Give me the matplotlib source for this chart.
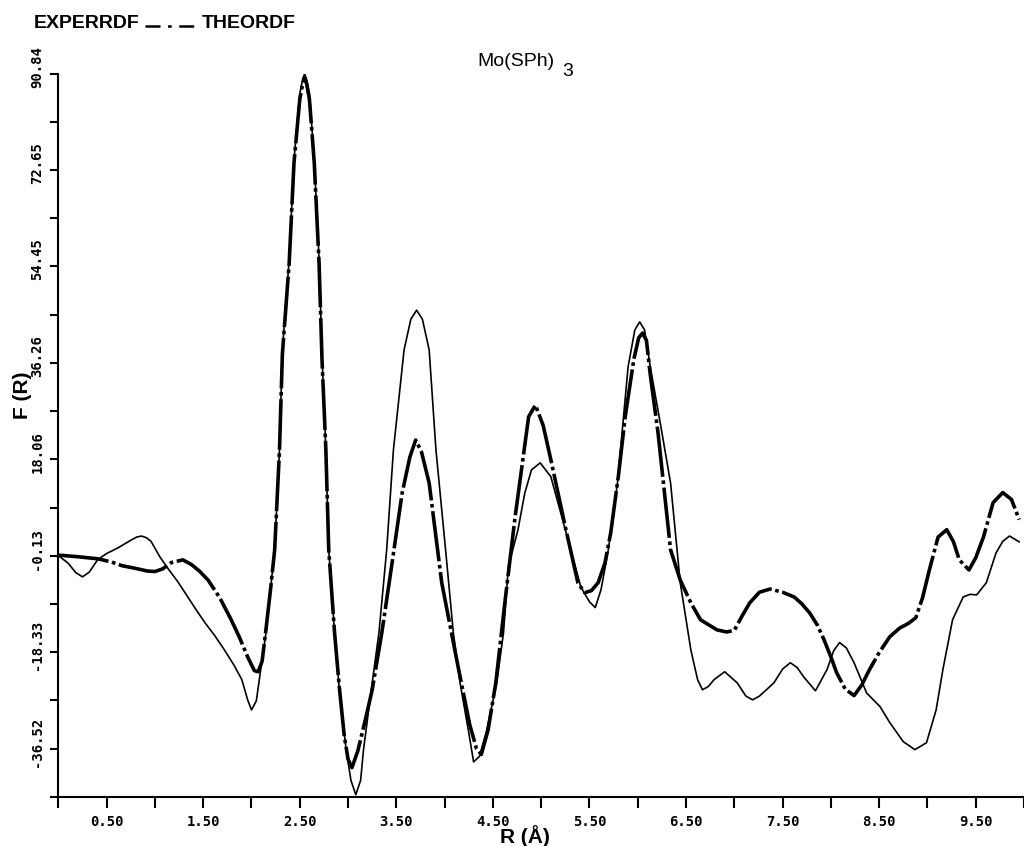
import numpy as np
import matplotlib
matplotlib.use("Agg")
import matplotlib.pyplot as plt
import matplotlib.transforms as mtransforms
from matplotlib.lines import Line2D

exp_r = [0.00, 0.10, 0.18, 0.25, 0.32, 0.41, 0.50, 0.62, 0.75, 0.81, 0.86, 0.91, 0.96,
         1.05, 1.13, 1.24, 1.34, 1.43, 1.52, 1.62, 1.72, 1.82, 1.90, 1.96,
         2.00, 2.05, 2.10, 2.15, 2.20, 2.24, 2.29, 2.32, 2.39, 2.44, 2.50, 2.53,
         2.55, 2.57, 2.60, 2.65, 2.70, 2.73, 2.77, 2.80, 2.86, 2.91, 2.98, 3.03,
         3.08, 3.13, 3.16, 3.25, 3.32, 3.40, 3.47, 3.58, 3.65, 3.71, 3.77,
         3.84, 3.91, 4.01, 4.09, 4.16, 4.25, 4.30, 4.36, 4.43, 4.54, 4.61,
         4.66, 4.76, 4.83, 4.90, 4.99, 5.10, 5.25, 5.41, 5.50, 5.56, 5.62,
         5.69, 5.79, 5.90, 5.97, 6.02, 6.07, 6.13, 6.24, 6.34, 6.44, 6.55,
         6.62, 6.67, 6.73, 6.79, 6.90, 7.03, 7.12, 7.19, 7.26, 7.41, 7.50,
         7.58, 7.65, 7.72, 7.84, 7.96, 8.03, 8.09, 8.16, 8.24, 8.37, 8.51,
         8.61, 8.75, 8.87, 8.99, 9.09, 9.16, 9.26, 9.37, 9.44, 9.51, 9.61,
         9.71, 9.78, 9.85, 9.95]
exp_f = [-0.1, -1.5, -3.3, -4.1, -3.2, -0.8, 0.3, 1.4, 2.8, 3.4, 3.6, 3.3, 2.6,
         -0.3, -2.4, -5.1, -7.9, -10.4, -12.8, -15.2, -17.9, -20.8, -23.5, -27.3,
         -29.2, -27.5, -21.0, -14.6, -6.0, 1.0, 19.9, 38.7, 55.7, 74.5, 87.0, 89.8,
         90.8, 89.8, 87.0, 74.5, 55.7, 38.0, 19.9, 1.0, -14.6, -25.4, -36.7, -42.5,
         -45.2, -42.5, -36.7, -24.1, -14.6, 1.0, 19.9, 38.7, 44.5, 46.2, 44.5,
         38.7, 19.9, 1.0, -14.6, -24.1, -33.5, -39.0, -38.0, -33.5, -24.1, -14.6,
         -2.2, 4.8, 11.7, 16.1, 17.4, 14.8, 4.8, -6.0, -8.8, -9.9, -6.5,
         0.4, 13.6, 35.5, 42.5, 44.0, 42.5, 35.5, 24.2, 13.6, -5.2, -17.9,
         -23.5, -25.4, -24.8, -23.5, -22.0, -24.1, -26.6, -27.3, -26.6, -24.1, -21.5,
         -20.3, -21.2, -23.0, -25.6, -21.6, -18.0, -16.5, -17.5, -20.3, -26.0, -28.6,
         -31.6, -35.2, -36.7, -35.4, -29.2, -21.6, -12.2, -7.9, -7.4, -7.5, -5.2,
         0.4, 2.6, 3.6, 2.5]

# theoretical RDF
theo_r = [0.00, 0.20, 0.41, 0.55, 0.66, 0.80, 0.92, 1.00, 1.08, 1.17, 1.29,
          1.38, 1.46, 1.55, 1.67, 1.79, 1.88, 1.96, 2.03, 2.07, 2.11, 2.15,
          2.20, 2.24, 2.29, 2.32, 2.39, 2.44, 2.50, 2.53, 2.55, 2.57, 2.60, 2.65, 2.70,
          2.73, 2.77, 2.80, 2.86, 2.91, 2.96, 3.00, 3.04, 3.10, 3.18, 3.25,
          3.35, 3.45, 3.56, 3.64, 3.70, 3.76, 3.84, 3.97, 4.14, 4.26, 4.33,
          4.38, 4.45, 4.53, 4.63, 4.73, 4.81, 4.87, 4.94, 5.02, 5.10, 5.25,
          5.38, 5.45, 5.52, 5.59, 5.66, 5.72, 5.80, 5.87, 5.96, 6.01, 6.05,
          6.09, 6.13, 6.21, 6.34, 6.44, 6.55, 6.65, 6.82, 6.92, 7.00, 7.08,
          7.16, 7.26, 7.37, 7.50, 7.62, 7.70, 7.78, 7.86, 7.93, 8.00, 8.06,
          8.15, 8.24, 8.32, 8.40, 8.50, 8.61, 8.71, 8.81, 8.88, 8.95, 9.02,
          9.11, 9.20, 9.27, 9.33, 9.43, 9.50, 9.58, 9.68, 9.78, 9.87, 9.95]
theo_f = [0.0, -0.3, -0.7, -1.3, -2.0, -2.5, -3.0, -3.1, -2.6, -1.4, -0.9,
          -1.8, -3.0, -4.7, -8.0, -12.2, -15.7, -19.2, -21.8, -22.0, -20.0, -14.0,
          -6.0, 1.0, 19.9, 38.0, 55.0, 74.0, 86.0, 89.0, 90.0, 89.0, 86.0, 74.0, 55.0,
          37.0, 19.9, 1.0, -14.6, -25.0, -34.0, -38.5, -40.1, -37.0, -31.0, -25.4,
          -14.6, -2.2, 11.7, 18.5, 21.7, 19.5, 13.6, -5.2, -21.1, -32.0, -36.5,
          -37.6, -33.0, -24.1, -8.0, 7.2, 18.0, 26.1, 28.3, 24.5, 18.0, 5.3,
          -5.2, -7.1, -6.7, -5.2, -1.5, 4.2, 15.0, 26.1, 37.0, 41.0, 41.9,
          40.5, 34.0, 23.1, 1.0, -4.7, -9.0, -12.2, -14.1, -14.5, -14.2, -11.5,
          -9.0, -7.0, -6.4, -7.0, -7.9, -9.2, -10.9, -13.2, -16.0, -19.2, -22.2,
          -25.3, -26.5, -24.5, -21.6, -18.4, -15.4, -13.8, -12.8, -11.8, -8.0, -2.8,
          3.4, 4.8, 2.5, -0.9, -2.8, -0.5, 3.4, 9.9, 11.8, 10.5, 6.7]

y_ticks = [-36.52, -18.33, -0.13, 18.06, 36.26, 54.45, 72.65, 90.84]
x_ticks = [0.5, 1.5, 2.5, 3.5, 4.5, 5.5, 6.5, 7.5, 8.5, 9.5]

dashdot = (0, (14, 1.0, 1.0, 1.0))
tickfont = dict(family="DejaVu Sans Mono", weight="bold", size=10)

fig = plt.figure(figsize=(10.24, 8.46), dpi=100)
ax = fig.add_axes([0.057, 0.058, 0.943, 0.855])

ax.plot(exp_r, exp_f, color="black", lw=1.2)
ax.plot(theo_r, theo_f, color="black", lw=2.6, linestyle=dashdot)

ax.set_xlim(0, 10)
ax.set_ylim(-45.62, 90.84)

for s in ["top", "right"]:
    ax.spines[s].set_visible(False)
for s in ["left", "bottom"]:
    ax.spines[s].set_linewidth(1.5)

ax.set_xticks(x_ticks)
ax.set_xticklabels(["%.2f" % v for v in x_ticks], fontdict=tickfont)
ax.set_xticks(np.arange(0, 11, 1), minor=True)
ax.set_yticks(y_ticks)
ax.set_yticklabels(["%.2f" % v for v in y_ticks], fontdict=tickfont,
                   rotation=90, va="center")
ax.set_yticks([v - 9.095 for v in y_ticks], minor=True)
ax.tick_params(which="both", direction="out", width=1.5)
ax.tick_params(axis="x", which="both", length=8, pad=5)
ax.tick_params(axis="y", which="both", length=6, pad=4)

# y labels sit slightly above their ticks in the original
shift = mtransforms.ScaledTranslation(0, 0.07, fig.dpi_scale_trans)
for lab in ax.get_yticklabels():
    lab.set_transform(lab.get_transform() + shift)

lab_font = dict(family="Liberation Sans", weight="bold")
fig.text(0.513, 1 - 836 / 846, "R (Å)", ha="center", va="center",
         fontsize=15, **lab_font)
fig.text(22 / 1024, 1 - 395 / 846, "F (R)", ha="center", va="center",
         rotation=90, fontsize=15, **lab_font)

# title with dropped subscript
fig.text(516 / 1024, 1 - 62 / 846, "Mo(SPh)", ha="center", va="center",
         fontsize=14, family="Liberation Sans")
fig.text(568 / 1024, 1 - 72 / 846, "3", ha="center", va="center",
         fontsize=14, family="Liberation Sans")

# legend drawn as header text
fig.text(34 / 1024, 1 - 24 / 846, "EXPERRDF", ha="left", va="center",
         fontsize=14, **lab_font)
fig.add_artist(Line2D([145 / 1024, 197 / 1024], [1 - 26 / 846, 1 - 26 / 846],
                      transform=fig.transFigure, color="black", lw=1.8,
                      linestyle=(0, (6, 3, 1.5, 3))))
fig.text(202 / 1024, 1 - 24 / 846, "THEORDF", ha="left", va="center",
         fontsize=14, **lab_font)

fig.savefig("out.png", dpi=100)
